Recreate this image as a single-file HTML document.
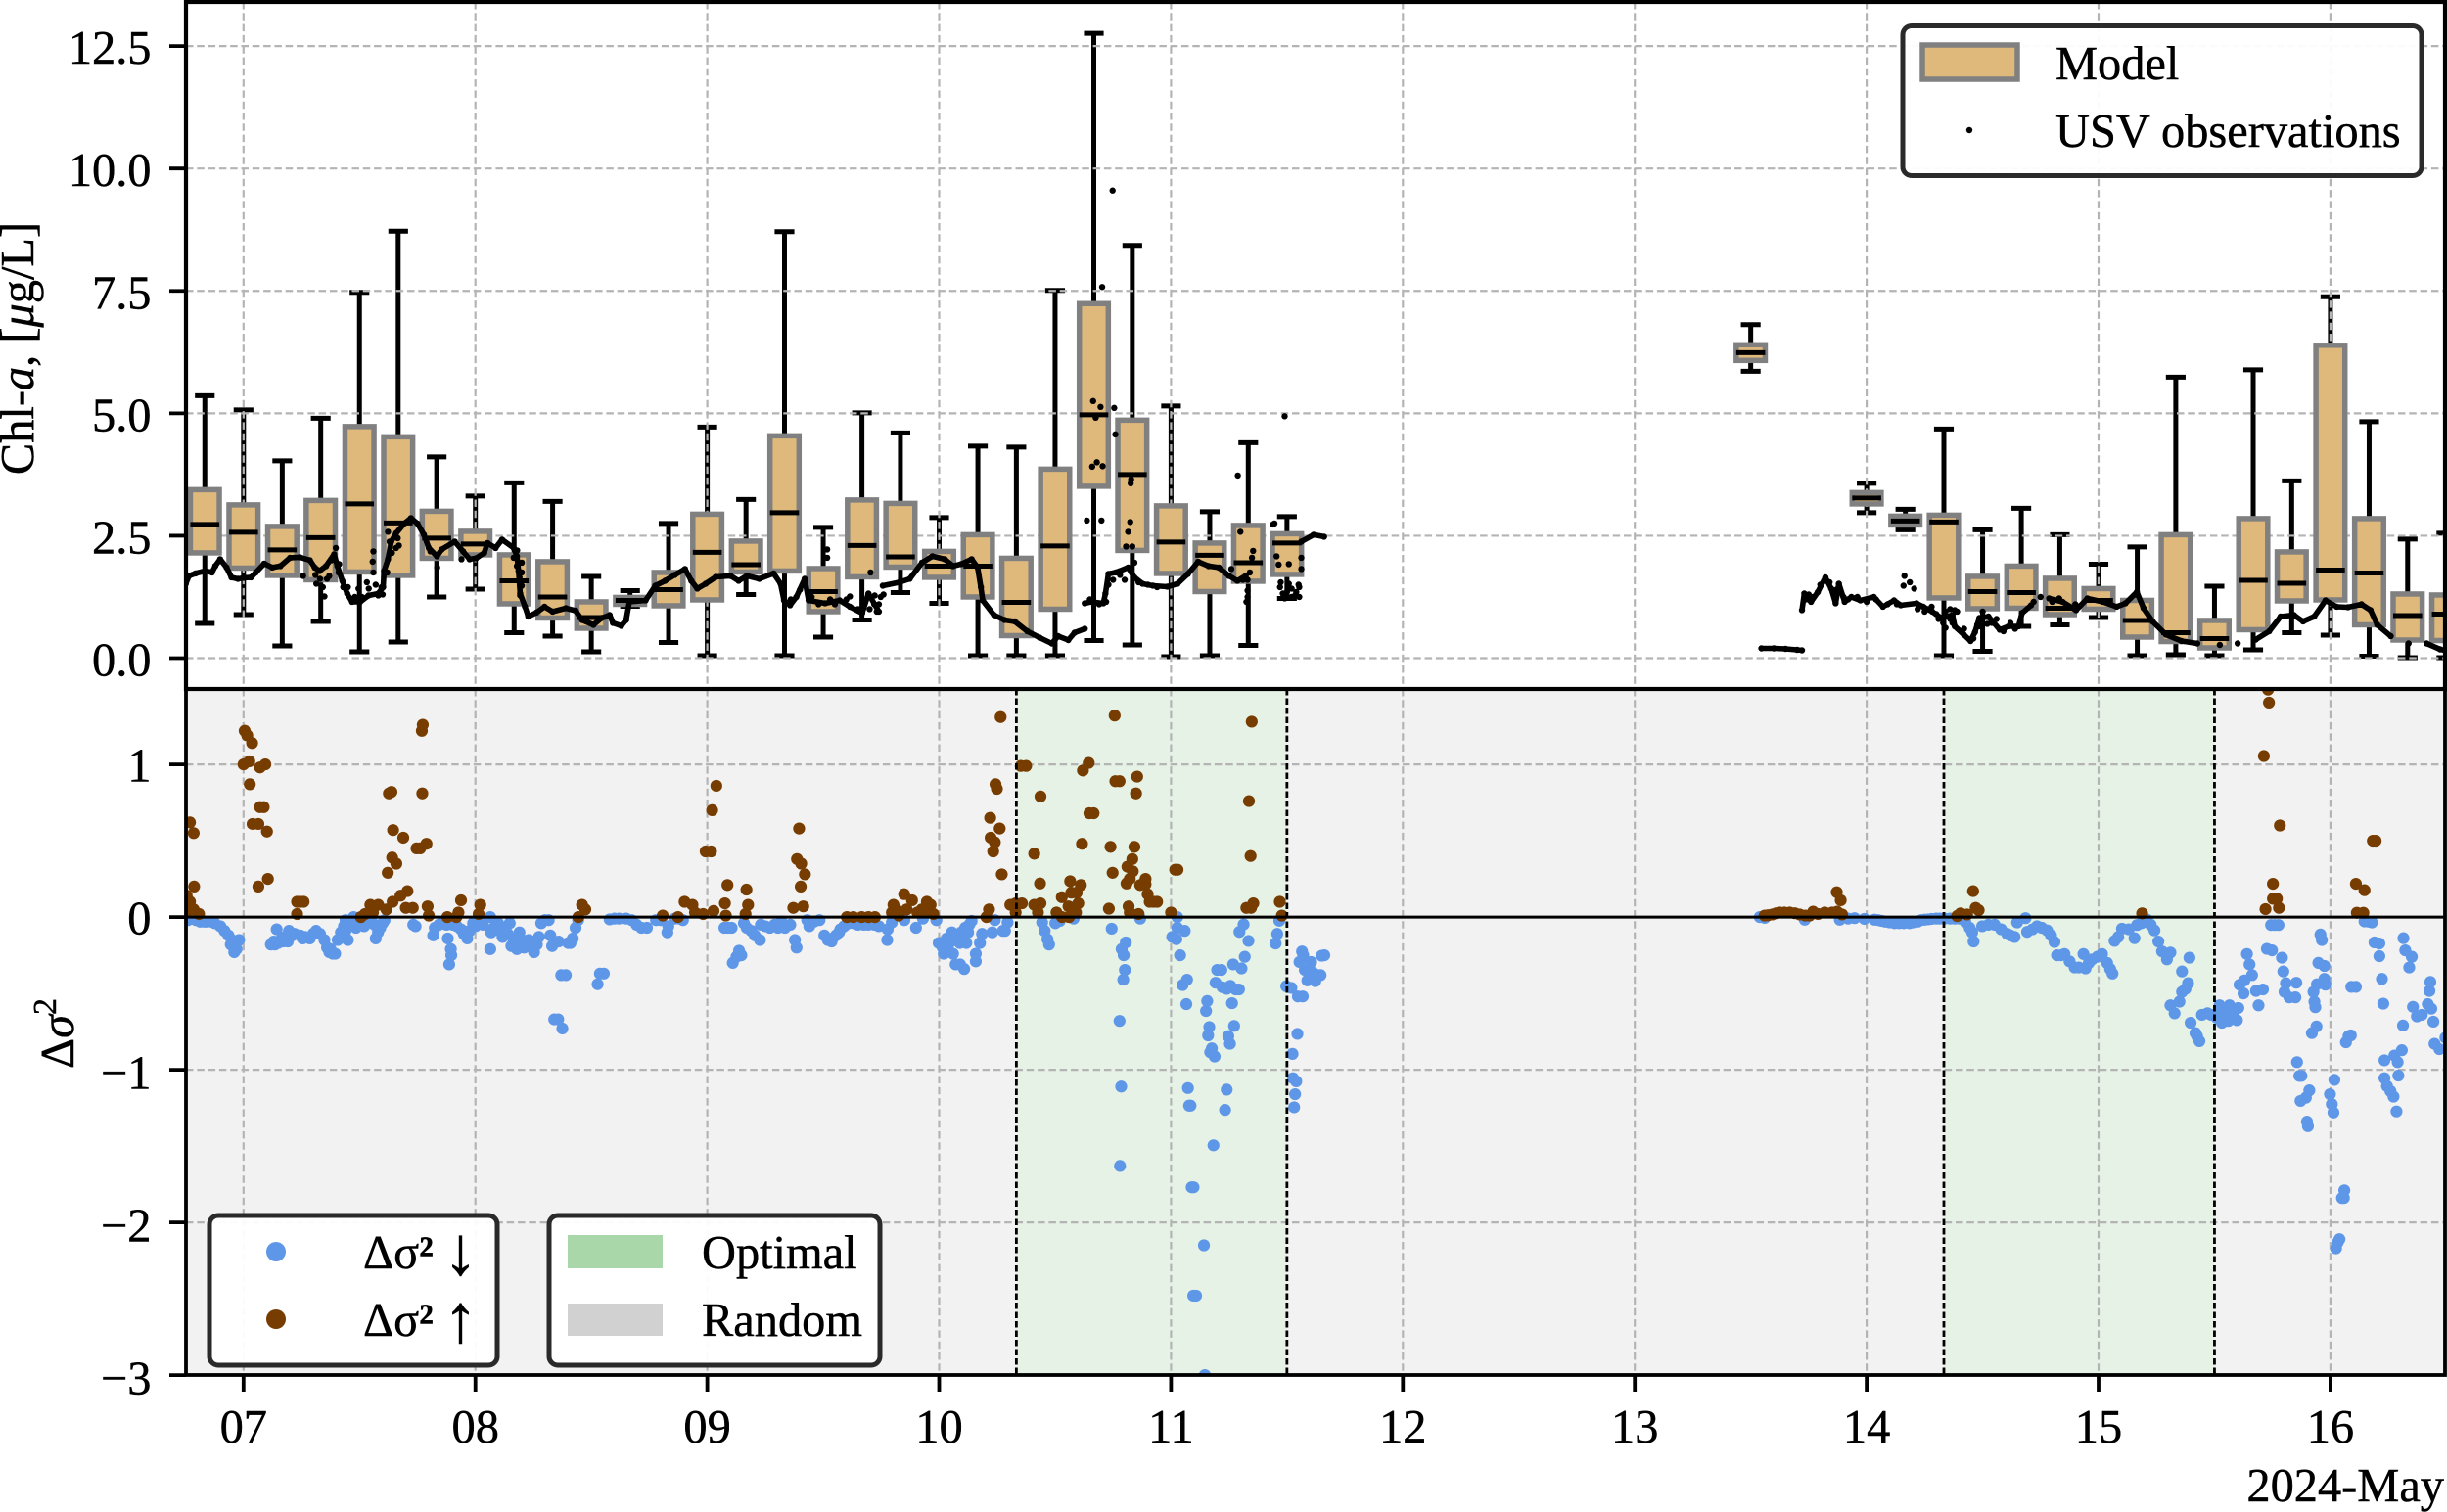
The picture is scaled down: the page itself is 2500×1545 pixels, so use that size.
<!DOCTYPE html>
<html lang="en">
<head>
<meta charset="utf-8">
<title>Chl-a model versus USV observations</title>
<style>
html,body{margin:0;padding:0;background:#fff;}
#chart{display:block;width:2500px;height:1545px;font-family:"Liberation Serif","DejaVu Serif",serif;fill:#000;}
text{font-size:48.4px;stroke:#000;stroke-width:0.45px;}
</style>
</head>
<body>
<svg id="chart" xmlns="http://www.w3.org/2000/svg" width="2500" height="1545" viewBox="0 0 2500 1545">
  <defs>
    <clipPath id="clip-top"><rect x="190" y="2" width="2308" height="702"/></clipPath>
    <clipPath id="clip-bottom"><rect x="190" y="704" width="2308" height="701"/></clipPath>
  </defs>
  <rect x="0" y="0" width="2500" height="1545" fill="#fff"/>

  <g id="top-panel" clip-path="url(#clip-top)">
    <g id="top-whiskers"></g>
    <g id="top-grid"></g>
    <g id="top-boxes"></g>
    <g id="top-obs"></g>
  </g>

  <rect x="190" y="704" width="2308" height="701" fill="#f2f2f2"/>
  <g id="bottom-panel" clip-path="url(#clip-bottom)">
    <g id="bottom-spans"></g>
    <g id="bottom-grid"></g>
    <g id="delta-down"></g>
    <g id="delta-up"></g>
    <g id="bottom-lines"></g>
  </g>

  <g id="axes-ticks"></g>

  <rect x="190" y="2" width="2308" height="702" fill="none" stroke="#000" stroke-width="4.2"/>
  <rect x="190" y="704" width="2308" height="701" fill="none" stroke="#000" stroke-width="3.8"/>

  <text transform="translate(34,356) rotate(-90)" text-anchor="middle">Chl-<tspan font-style="italic">a</tspan>, [<tspan font-style="italic">μ</tspan>g/L]</text>
  <text transform="translate(75,1056) rotate(-90)" text-anchor="middle">Δ<tspan font-style="italic">σ</tspan><tspan font-size="34" dy="-18">2</tspan></text>
  <text x="2497" y="1534" text-anchor="end">2024-May</text>

  <g>
    <rect x="1944" y="26.5" width="530" height="153" rx="9" ry="9" fill="#fff" fill-opacity="0.94" stroke="#2a2a2a" stroke-width="5"/>
    <rect x="1964" y="46" width="97" height="35" fill="#dfb97c" stroke="#808080" stroke-width="5.5"/>
    <text x="2100" y="81">Model</text>
    <circle cx="2012" cy="133" r="3.2" fill="#000"/>
    <text x="2100" y="150">USV observations</text>
  </g>

  <g>
    <rect x="214" y="1242" width="294" height="153" rx="9" ry="9" fill="#fff" fill-opacity="0.94" stroke="#2a2a2a" stroke-width="5"/>
    <circle cx="282" cy="1279" r="10" fill="#5e97e8"/>
    <text x="371" y="1296">Δσ<tspan font-weight="bold">²</tspan><tspan x="453" dy="6" font-size="70">↓</tspan></text>
    <circle cx="282" cy="1348" r="10" fill="#773c00"/>
    <text x="371" y="1365">Δσ<tspan font-weight="bold">²</tspan><tspan x="453" dy="6" font-size="70">↑</tspan></text>
  </g>

  <g>
    <rect x="561" y="1242" width="338" height="153" rx="9" ry="9" fill="#fff" fill-opacity="0.94" stroke="#2a2a2a" stroke-width="5"/>
    <rect x="580" y="1262" width="97" height="34" fill="#a9d7a9"/>
    <text x="717" y="1296">Optimal</text>
    <rect x="580" y="1332" width="97" height="33" fill="#d1d1d1"/>
    <text x="717" y="1365">Random</text>
  </g>
</svg>

<script>
// ---- axis tick data ----
const dayTicks = [7, 8, 9, 10, 11, 12, 13, 14, 15, 16];
const dayTickLabels = ["07", "08", "09", "10", "11", "12", "13", "14", "15", "16"];
const chlTicks = [0, 2.5, 5, 7.5, 10, 12.5];
const chlTickLabels = ["0.0", "2.5", "5.0", "7.5", "10.0", "12.5"];
const deltaTicks = [1, 0, -1, -2, -3];
const deltaTickLabels = ["1", "0", "−1", "−2", "−3"];

// ---- model box statistics ----
const boxDays = [6.833,7,7.167,7.333,7.5,7.667,7.833,8,8.167,8.333,8.5,8.667,8.833,9,9.167,9.333,9.5,9.667,9.833,10,10.167,10.333,10.5,10.667,10.833,11,11.167,11.333,11.5,13.5,14,14.167,14.333,14.5,14.667,14.833,15,15.167,15.333,15.5,15.667,15.833,16,16.167,16.333,16.5];
const whiskerHigh = [5.36,5.07,4.03,4.90,7.47,8.72,4.11,3.31,3.58,3.20,1.67,1.38,2.75,4.72,3.24,8.71,2.67,5.01,4.60,2.87,4.33,4.31,7.51,12.76,8.43,5.15,2.99,4.40,2.89,6.81,3.57,3.04,4.68,2.62,3.06,2.52,1.92,2.27,5.74,1.47,5.89,3.62,7.38,4.83,2.43,2.55];
const boxQ3 = [3.44,3.13,2.69,3.22,4.73,4.52,3.0,2.59,2.11,1.97,1.15,1.24,1.75,2.94,2.39,4.54,1.83,3.23,3.16,2.18,2.52,2.04,3.86,7.24,4.86,3.11,2.35,2.71,2.54,6.40,3.38,2.90,2.92,1.67,1.88,1.63,1.42,1.18,2.52,0.77,2.85,2.17,6.39,2.85,1.31,1.29];
const boxMedian = [2.73,2.57,2.21,2.46,3.15,2.76,2.45,2.33,1.58,1.25,0.83,1.18,1.40,2.16,1.91,2.97,1.36,2.30,2.07,1.88,1.88,1.14,2.29,4.97,3.75,2.37,2.10,1.95,2.35,6.24,3.27,2.80,2.78,1.36,1.34,1.02,1.18,0.77,0.52,0.40,1.59,1.53,1.80,1.74,0.87,0.90];
const boxQ1 = [2.15,1.84,1.69,1.60,1.76,1.69,2.04,2.11,1.11,0.82,0.61,1.10,1.07,1.19,1.76,1.78,0.95,1.66,1.86,1.65,1.25,0.46,1.0,3.51,2.20,1.73,1.36,1.57,1.71,6.08,3.15,2.72,1.23,1.01,1.02,0.89,1.0,0.43,0.34,0.21,0.58,1.17,1.19,0.68,0.37,0.36];
const whiskerLow = [0.71,0.89,0.25,0.75,0.13,0.33,1.25,1.41,0.52,0.45,0.13,1.06,0.32,0.05,1.30,0.05,0.43,0.78,1.34,1.12,0.05,0.05,0.05,0.36,0.27,0.03,0.05,0.26,1.22,5.86,2.97,2.62,0.05,0.14,0.65,0.68,0.83,0.05,0.07,0.05,0.17,0.52,0.47,0.04,0.01,0.01];

// ---- USV observations: the near-continuous track [day, chl-a] ----
const obsTrack = [
[6.751,1.52],[6.765,1.68],[6.793,1.73],[6.835,1.78],[6.864,1.75],[6.878,1.88],[6.899,2.02],[6.927,1.85],[6.948,1.65],[6.976,1.62],[7.0,1.64],[7.032,1.65],[7.053,1.75],[7.089,1.93],[7.124,1.85],[7.159,1.88],[7.201,2.05],[7.243,2.06],[7.286,2.0],[7.307,1.85],[7.328,1.78],[7.356,1.88],[7.391,2.12],[7.405,1.88],[7.426,1.58],[7.447,1.32],[7.468,1.15],[7.503,1.15],[7.539,1.28],[7.581,1.32],[7.602,1.45],[7.606,1.78],[7.623,2.02],[7.637,2.38],[7.658,2.55],[7.693,2.75],[7.722,2.86],[7.75,2.75],[7.778,2.52],[7.799,2.25],[7.834,2.08],[7.855,2.22],[7.911,2.38],[7.947,2.18],[7.975,2.02],[8.003,2.04],[8.038,2.15],[8.052,2.35],[8.087,2.25],[8.115,2.42],[8.165,2.25],[8.179,2.08],[8.186,1.78],[8.193,1.32],[8.214,1.05],[8.228,0.85],[8.263,0.93],[8.298,1.05],[8.333,0.95],[8.39,1.02],[8.432,0.97],[8.46,0.78],[8.509,0.68],[8.544,0.82],[8.579,0.88],[8.593,0.72],[8.629,0.66],[8.65,0.78],[8.664,1.15],[8.734,1.18],[8.776,1.48],[8.818,1.58],[8.86,1.70],[8.904,1.82],[8.931,1.58],[8.957,1.42],[8.993,1.52],[9.037,1.66],[9.100,1.68],[9.135,1.58],[9.171,1.68],[9.224,1.62],[9.286,1.73],[9.316,1.52],[9.331,1.18],[9.357,1.08],[9.384,1.25],[9.42,1.62],[9.437,1.18],[9.508,1.12],[9.571,1.18],[9.615,1.05],[9.668,0.92],[9.695,1.32],[9.74,0.95],[9.757,1.48],[9.828,1.55],[9.873,1.62],[9.926,1.95],[9.971,2.08],[10.024,2.02],[10.06,1.88],[10.095,1.92],[10.14,2.02],[10.166,1.85],[10.18,1.45],[10.188,1.18],[10.237,0.88],[10.282,0.78],[10.326,0.75],[10.38,0.55],[10.433,0.42],[10.486,0.30],[10.513,0.45],[10.557,0.37],[10.584,0.52],[10.628,0.60],
[10.628,1.12],[10.655,1.15],[10.708,1.12],[10.717,1.32],[10.73,1.72],[10.762,1.75],[10.815,1.85],[10.842,1.65],[10.877,1.52],[10.922,1.48],[10.984,1.46],[11.028,1.52],[11.073,1.72],[11.117,1.97],[11.162,1.88],[11.206,1.85],[11.25,1.68],[11.286,1.58],[11.322,1.68],
[11.562,2.38],[11.615,2.52],[11.66,2.48],
[13.546,0.20],[13.6,0.20],[13.65,0.19],[13.7,0.17],[13.721,0.16],
[13.721,0.98],[13.731,1.32],[13.76,1.15],[13.789,1.35],[13.822,1.65],[13.847,1.42],[13.866,1.12],[13.88,1.52],[13.905,1.15],[13.934,1.25],[13.973,1.18],[14.031,1.25],[14.07,1.05],[14.118,1.18],[14.147,1.08],[14.215,1.12],[14.244,1.05],[14.283,0.95],[14.322,0.82],[14.37,0.88],
[14.38,0.65],[14.419,0.48],[14.448,0.35],[14.467,0.53],[14.486,0.82],[14.525,0.85],[14.574,0.58],[14.612,0.65],[14.655,0.65],[14.67,0.92],[14.709,1.08],[14.787,1.22],[14.845,1.15],[14.903,0.98],[14.952,1.22],[15.019,1.15],[15.078,1.05],[15.116,1.12],[15.165,1.35],[15.194,1.02],[15.233,0.75],[15.291,0.48],[15.358,0.35],[15.426,0.30],[15.523,0.27],[15.6,0.30],[15.678,0.38],[15.736,0.55],[15.785,0.85],[15.843,0.88],[15.882,0.75],[15.93,0.85],[15.979,1.18],[16.027,1.05],[16.076,1.04],[16.134,1.10],[16.173,0.98],[16.202,0.68],[16.26,0.45],[16.337,0.30],[16.415,0.30],[16.473,0.18],[16.5,0.15]
];

// ---- USV observations: isolated points [day, chl-a] ----
const obsScatter = [
[7.257,1.68],[7.314,1.52],[7.342,1.45],[7.349,1.26],[7.37,1.68],[7.412,1.92],[7.398,2.25],[7.56,2.18],[7.557,1.97],[7.56,1.75],[7.532,1.55],[7.496,1.42],[7.595,1.45],[7.581,1.28],[7.658,2.25],[7.63,2.38],[7.623,2.58],[7.665,2.45],[7.835,1.85],[7.806,2.18],[7.94,2.02],[8.179,1.88],[8.2,1.75],[8.165,2.05],[8.193,1.28],[8.2,1.48],
[7.31,1.7],[7.33,1.62],[7.36,1.62],[7.38,2.0],[7.41,1.75],[7.43,1.45],[7.45,1.45],[7.48,1.25],[7.51,1.25],[7.54,1.42],[7.57,1.5],[7.6,1.3],[7.62,1.75],[7.64,2.15],[7.67,2.3],[8.18,2.2],[8.19,1.65],[8.2,1.95],
[9.36,1.2],[9.4,1.4],[9.45,1.25],[9.48,1.1],[9.53,1.2],[9.55,1.1],[9.6,1.2],[9.65,1.0],[9.7,1.0],[9.72,1.1],[9.74,1.1],[9.76,1.3],
[9.517,2.22],[9.517,2.05],[9.704,1.75],[9.722,1.28],[9.748,1.25],[9.731,0.95],[9.615,1.26],
[10.637,2.81],[10.70,2.81],[10.824,2.78],[10.815,2.58],[10.806,2.28],[10.833,2.28],[10.842,1.95],[11.299,2.58],[11.446,2.75],[11.354,2.19],[11.349,2.05],[11.325,1.15],[11.33,1.38],[11.26,1.82],[11.455,2.08],[11.508,1.92],[11.464,1.91],[11.562,2.05],[11.562,1.82],[11.473,1.55],[11.508,1.52],[11.553,1.45],[11.482,1.32],[11.535,1.28],[11.49,1.22],[11.553,1.25],
[10.65,1.2],[10.69,1.1],[10.72,1.15],[10.73,1.5],[10.75,1.6],[10.78,1.7],[10.8,1.6],[10.83,1.75],[10.86,1.55],[10.9,1.5],[10.94,1.45],[11.33,1.6],[11.34,1.75],[11.31,1.6],[11.33,1.25],
[11.47,1.45],[11.5,1.35],[11.52,1.42],[11.54,1.35],[11.55,1.5],[11.5,1.25],[11.52,1.25],
[10.748,9.55],[10.703,7.58],[10.664,5.25],[10.696,5.13],[10.755,5.11],[10.76,4.57],[10.675,4.91],[10.66,3.91],[10.68,4.0],[10.705,3.92],[11.288,3.73],[11.49,4.94],[11.44,2.73],[10.826,3.57],[10.828,3.65],
[14.159,1.48],[14.163,1.68],[14.186,1.55],[14.205,1.42],[14.477,0.68],[14.34,0.62],[14.36,1.0],[14.39,0.95],
[13.74,1.2],[13.75,1.3],[13.77,1.25],[13.8,1.5],[13.84,1.55],[13.86,1.3],[13.87,1.4],[13.9,1.25],[13.92,1.2],[13.96,1.25],[14.0,1.15],[14.04,1.2],[14.09,1.1],[14.13,1.1],
[14.22,1.0],[14.25,0.95],[14.28,1.05],[14.3,0.9],[14.31,0.8],[14.33,0.72],[14.34,0.95],[14.36,0.8],[14.37,0.72],[14.38,0.98],
[14.42,0.6],[14.46,0.4],[14.49,0.65],[14.5,0.95],[14.52,0.7],[14.54,0.72],[14.56,0.8],[14.59,0.55],[14.62,0.72],[14.64,0.6],
[14.72,1.15],[14.75,1.25],[14.8,1.15],[14.83,1.22],[14.87,1.05],[14.9,1.1]
];

// ---- change in variance: points above zero [day, delta] ----
const deltaUpPoints = [
[6.769,0.62],[6.785,0.55],[6.787,0.20],[6.755,0.14],[6.769,0.10],[6.785,0.05],[6.808,0.02],[6.755,0.08],[6.76,0.03],
[7.005,1.22],[7.016,1.19],[7.037,1.14],[7.0,1.0],[7.025,1.02],[7.071,0.98],[7.094,1.0],[7.027,0.87],[7.071,0.72],[7.087,0.72],[7.039,0.61],[7.064,0.61],[7.101,0.56],[7.105,0.25],[7.064,0.20],
[7.231,0.10],[7.259,0.10],[7.231,0.02],[7.245,0.10],
[7.506,0.0],[7.524,0.02],[7.547,0.08],[7.581,0.08],[7.558,0.03],[7.616,0.05],[7.643,0.10],[7.677,0.14],[7.707,0.17],[7.7,0.06],[7.73,0.06],[7.622,0.29],[7.641,0.39],[7.659,0.35],[7.645,0.57],[7.689,0.52],[7.627,0.81],[7.638,0.82],
[7.773,1.26],[7.769,1.22],[7.771,0.81],[7.746,0.45],[7.762,0.45],[7.789,0.48],[7.794,0.07],[7.799,0.01],[7.879,0],[7.938,0.11],[7.927,0.03],[7.918,0],[8.021,0.08],[8.014,0.02],
[8.444,0],[8.46,0.08],[8.474,0.05],[8.808,0.01],[8.874,0.0],[8.902,0.10],[8.936,0.08],[8.947,0.03],[8.982,0.02],[8.993,0.43],[9.016,0.43],[9.021,0.70],[9.039,0.86],[9.027,0.04],[9.087,0.21],[9.076,0.09],[9.08,0.01],[9.169,0.18],[9.176,0.08],[9.165,0.02],
[9.396,0.58],[9.387,0.38],[9.405,0.35],[9.421,0.28],[9.403,0.20],[9.371,0.06],[9.414,0.07],
[9.602,0],[9.666,0],[9.723,0],[9.803,0.08],[9.796,0.03],[9.849,0.15],[9.883,0.11],[9.826,0.01],[9.906,0.03],[9.947,0.10],[9.963,0.08],[9.952,0.03],[9.975,0.02],[9.63,0.0],[9.695,0.0],[9.815,0.05],[9.86,0.05],[9.925,0.05],
[10.204,0],[10.215,0.05],[10.27,0.28],[10.233,0.43],[10.222,0.52],[10.24,0.49],[10.261,0.58],[10.22,0.65],[10.243,0.87],[10.249,0.84],[10.265,1.31],
[10.307,0.08],[10.33,0.09],[10.357,0.09],[10.33,0.03],[10.352,0.99],[10.375,0.99],[10.41,0.415],[10.437,0.79],[10.435,0.22],[10.41,0.08],[10.437,0.09],[10.426,0.03],
[10.506,0.03],[10.529,0.13],[10.558,0.07],[10.565,0.235],[10.57,0.16],[10.593,0.16],[10.611,0.21],[10.6,0.09],[10.616,0.48],[10.62,0.96],[10.645,1.01],[10.53,0.0],[10.56,0.0],[10.59,0.03],
[10.648,0.68],[10.666,0.68],[10.732,0.055],[10.739,0.46],[10.748,0.29],[10.757,1.32],[10.76,0.89],[10.778,0.89],[10.854,0.92],[10.849,0.81],[10.842,0.46],[10.833,0.38],[10.812,0.33],[10.835,0.30],[10.822,0.25],[10.808,0.22],[10.817,0.07],[10.822,0.03],[10.86,0.02],[10.867,0.21],[10.89,0.215],[10.89,0.25],[10.899,0.15],[10.908,0.10],[10.94,0.10],[10.925,0.10],
[11.0,0.03],[11.018,0.31],[11.028,0.31],[11.336,0.76],[11.348,1.28],[11.343,0.40],[11.325,0.06],[11.355,0.09],[11.345,0.06],[11.469,0.10],[11.478,0.01],
[13.56,0.01],[13.593,0.017],[13.625,0.03],[13.668,0.03],[13.711,0.017],[13.754,0.01],[13.769,0.035],[13.819,0.03],[13.851,0.03],[13.873,0.035],[13.894,0.017],[13.871,0.163],[13.888,0.11],[13.575,0.012],[13.61,0.025],[13.645,0.03],[13.69,0.025],[13.735,0.01],[13.79,0.02],
[14.39,0.007],[14.405,0.024],[14.433,0.017],[14.459,0.17],[14.47,0.06],[14.483,0.045],[15.188,0.024],
[15.731,1.49],[15.735,1.405],[15.713,1.055],[15.782,0.60],[15.752,0.218],[15.752,0.12],[15.769,0.12],[15.778,0.06],[15.72,0.052],
[16.11,0.218],[16.147,0.176],[16.183,0.50],[16.195,0.50],[16.114,0.028],[16.142,0.028]
];

// ---- change in variance: points below zero [day, delta] ----
const deltaDownPoints = [
[6.76,-0.02],[6.813,-0.03],[6.84,-0.03],[6.876,-0.04],[6.9,-0.06],[6.918,-0.09],[6.935,-0.12],[6.95,-0.15],[6.96,-0.23],[6.981,-0.15],[6.97,-0.21],[6.78,-0.01],[6.795,-0.02],[6.83,-0.03],[6.86,-0.03],[6.945,-0.18],
[7.118,-0.18],[7.135,-0.18],[7.149,-0.17],[7.143,-0.08],[7.17,-0.16],[7.191,-0.16],[7.196,-0.09],[7.22,-0.11],[7.244,-0.12],[7.265,-0.13],[7.286,-0.14],[7.313,-0.09],[7.33,-0.11],[7.349,-0.15],[7.37,-0.23],[7.385,-0.24],[7.395,-0.24],[7.406,-0.15],[7.42,-0.10],[7.433,-0.06],[7.45,-0.15],[7.44,-0.02],[7.475,0],[7.46,-0.05],[7.496,-0.05],[7.532,-0.04],[7.55,-0.01],[7.57,-0.14],[7.58,-0.10],[7.59,-0.07],[7.608,-0.02],[7.13,-0.16],[7.16,-0.15],[7.18,-0.13],[7.21,-0.12],[7.255,-0.14],[7.3,-0.11],[7.36,-0.2],[7.375,-0.21],[7.425,-0.13],[7.44,-0.09],[7.47,-0.03],[7.485,-0.07],[7.51,-0.02],[7.52,-0.06],[7.545,-0.03],[7.565,-0.05],[7.6,-0.04],
[7.732,-0.05],[7.742,-0.06],[7.818,-0.12],[7.843,-0.05],[7.86,-0.03],[7.881,-0.14],[7.894,-0.21],[7.896,-0.25],[7.887,-0.31],[7.902,-0.05],[7.938,-0.08],[7.965,-0.14],[7.99,-0.04],[7.825,-0.07],[7.875,-0.05],[7.92,-0.06],[7.95,-0.11],[7.975,-0.09],[8.0,-0.06],[8.015,-0.02],
[8.033,-0.05],[8.064,0],[8.068,-0.10],[8.064,-0.21],[8.098,-0.04],[8.117,-0.13],[8.148,-0.04],[8.155,-0.19],[8.179,-0.21],[8.19,-0.10],[8.222,-0.18],[8.24,-0.19],[8.253,-0.23],[8.274,-0.13],[8.284,-0.04],[8.316,-0.02],[8.323,-0.12],[8.331,-0.19],[8.359,-0.16],[8.4,-0.17],[8.42,-0.14],[8.432,-0.07],[8.443,-0.02],[8.08,-0.07],[8.105,-0.09],[8.13,-0.07],[8.14,-0.11],[8.165,-0.15],[8.2,-0.15],[8.21,-0.2],[8.23,-0.15],[8.265,-0.18],[8.3,-0.02],[8.41,-0.17],
[8.39,-0.38],[8.37,-0.38],[8.357,-0.67],[8.375,-0.73],[8.34,-0.67],[8.537,-0.37],[8.554,-0.37],[8.527,-0.44],
[8.579,-0.015],[8.6,-0.01],[8.62,-0.01],[8.65,-0.01],[8.674,-0.02],[8.695,-0.05],[8.716,-0.07],[8.74,-0.07],[8.779,-0.02],[8.8,-0.02],[8.832,-0.06],[8.828,-0.10],[8.86,-0.01],[8.895,-0.02],[8.88,-0.01],
[9.074,-0.07],[9.09,-0.07],[9.105,-0.07],[9.158,-0.04],[9.17,-0.07],[9.19,-0.09],[9.205,-0.12],[9.227,-0.15],[9.231,-0.05],[9.25,-0.06],[9.27,-0.07],[9.29,-0.05],[9.305,-0.07],[9.32,-0.03],[9.335,-0.07],[9.358,-0.05],[9.378,-0.15],[9.385,-0.20],[9.431,-0.02],[9.44,-0.06],[9.46,-0.03],[9.484,-0.02],[9.505,-0.12],[9.52,-0.15],[9.536,-0.16],[9.54,-0.14],[9.555,-0.12],[9.568,-0.10],[9.574,-0.08],[9.59,-0.06],[9.61,-0.04],[9.63,-0.04],[9.65,-0.05],[9.675,-0.05],[9.694,-0.05],[9.72,-0.05],[9.74,-0.06],[9.778,-0.08],[9.776,-0.15],[9.796,-0.035],[9.85,-0.02],[9.9,-0.07],[9.93,-0.01],[9.988,-0.02],[9.11,-0.30],[9.126,-0.26],[9.137,-0.22],[9.147,-0.25],
[9.998,-0.17],[10.005,-0.17],[10.02,-0.24],[10.03,-0.23],[10.032,-0.14],[10.055,-0.10],[10.071,-0.31],[10.108,-0.34],[10.089,-0.17],[10.117,-0.17],[10.112,-0.07],[10.14,-0.025],[10.158,-0.29],[10.158,-0.24],[10.176,-0.17],[10.185,-0.11],[10.229,-0.10],[10.284,-0.09],[10.295,-0.035],[10.24,-0.02],[10.015,-0.2],[10.04,-0.18],[10.06,-0.15],[10.075,-0.13],[10.095,-0.1],[10.1,-0.14],[10.125,-0.1],[10.13,-0.05],[10.06,-0.24],[10.09,-0.31],[10.275,-0.09],
[10.444,-0.035],[10.455,-0.09],[10.467,-0.145],[10.474,-0.18],[10.501,-0.04],[10.52,-0.025],[10.58,-0.01],
[10.744,-0.076],[10.805,-0.166],[10.787,-0.21],[10.796,-0.25],[10.801,-0.346],[10.794,-0.41],[10.778,-0.68],[10.785,-1.11],[10.78,-1.63],[10.867,-0.01],
[11.027,0],[11.027,-0.07],[11.005,-0.13],[11.023,-0.145],[11.059,-0.09],[11.039,-0.25],[11.069,-0.41],[11.05,-0.445],[11.066,-0.57],[11.073,-1.12],[11.078,-1.235],[11.084,-1.235],[11.089,-1.77],[11.097,-1.77],[11.142,-2.15],[11.096,-2.48],[11.108,-2.48],[11.146,-3.0],
[11.151,-0.615],[11.156,-0.55],[11.165,-0.72],[11.16,-0.775],[11.176,-0.86],[11.169,-0.885],[11.188,-0.913],[11.183,-1.495],[11.192,-0.43],[11.199,-0.346],[11.217,-0.346],[11.222,-0.46],[11.256,-0.45],[11.24,-0.47],[11.279,-0.474],[11.293,-0.474],[11.263,-0.564],[11.272,-0.713],[11.247,-0.78],[11.254,-0.83],[11.24,-1.13],[11.233,-1.263],
[11.268,-0.31],[11.304,-0.336],[11.318,-0.26],[11.334,-0.156],[11.295,-0.097],[11.313,-0.048],[11.451,-0.173],[11.458,-0.11],[11.467,-0.024],
[11.497,-0.453],[11.519,-0.464],[11.547,-0.52],[11.568,-0.52],[11.545,-0.765],[11.524,-0.896],[11.526,-1.055],[11.54,-1.076],[11.535,-1.16],[11.531,-1.246],
[11.554,-0.294],[11.565,-0.225],[11.57,-0.25],[11.577,-0.346],[11.588,-0.415],[11.604,-0.294],[11.611,-0.363],[11.622,-0.42],[11.634,-0.38],[11.645,-0.38],[11.65,-0.253],[11.661,-0.25],
[13.539,0],[13.56,-0.005],[13.733,-0.017],[13.884,-0.017],[13.92,-0.01],[13.948,-0.007],[13.99,-0.012],[14.034,-0.017],[14.05,-0.02],[14.065,-0.025],[14.08,-0.03],[14.099,-0.035],[14.12,-0.04],[14.14,-0.04],[14.16,-0.04],[14.185,-0.04],[14.2,-0.035],[14.22,-0.03],[14.235,-0.02],[14.25,-0.017],[14.265,-0.015],[14.28,-0.012],[14.3,-0.01],[14.315,-0.01],[14.335,-0.01],[14.36,-0.01],[14.38,-0.01],[14.4,-0.01],[14.425,-0.03],[14.444,-0.07],[14.461,-0.16],[14.455,-0.10],[14.498,-0.06],[14.525,-0.05],[14.552,-0.05],[14.58,-0.08],[14.606,-0.11],[14.62,-0.12],[14.638,-0.13],[14.649,-0.035],[14.685,-0.007],[14.692,-0.097],[14.715,-0.08],[14.735,-0.06],[14.755,-0.07],[14.778,-0.087],[14.795,-0.12],[14.81,-0.163],[14.821,-0.25],[14.838,-0.25],[14.853,-0.242],[14.875,-0.29],[14.897,-0.33],[14.915,-0.33],[14.935,-0.242],[14.944,-0.336],[14.958,-0.3],[14.972,-0.277],[14.995,-0.26],[15.015,-0.242],[15.037,-0.30],[15.05,-0.34],[15.06,-0.37],[15.069,-0.156],[15.085,-0.13],[15.101,-0.076],[15.13,-0.08],[15.155,-0.138],[15.166,-0.052],[15.185,-0.04],[15.209,-0.017],[15.225,-0.05],[15.241,-0.087],[15.258,-0.16],[15.274,-0.225],[15.295,-0.277],[15.31,-0.232],
[15.392,-0.266],[15.36,-0.356],[15.386,-0.433],[15.375,-0.47],[15.36,-0.49],[15.349,-0.554],[15.31,-0.578],[15.328,-0.63],[15.397,-0.692],[15.418,-0.76],[15.435,-0.813],[15.425,-0.78],[15.446,-0.64],[15.47,-0.63],[15.5,-0.64],[15.522,-0.578],[15.532,-0.692],[15.51,-0.66],[15.55,-0.65],[15.565,-0.578],[15.56,-0.68],[15.58,-0.64],[15.597,-0.675],[15.603,-0.595],[15.485,-0.64],[15.54,-0.6],[15.575,-0.6],
[15.625,-0.50],[15.608,-0.443],[15.629,-0.415],[15.64,-0.242],[15.651,-0.31],[15.662,-0.38],[15.679,-0.484],[15.709,-0.474],[15.69,-0.578],[15.726,-0.208],[15.748,-0.218],[15.744,-0.052],[15.76,-0.052],[15.776,-0.052],[15.791,-0.266],[15.797,-0.356],[15.808,-0.433],[15.802,-0.49],[15.823,-0.526],[15.849,-0.526],[15.853,-0.43],
[15.856,-0.95],[15.866,-1.04],[15.875,-1.04],[15.909,-1.135],[15.894,-1.183],[15.871,-1.204],[15.899,-1.34],[15.903,-1.37],
[15.92,-0.76],[15.94,-0.716],[15.931,-0.554],[15.935,-0.59],[15.927,-0.49],[15.942,-0.44],[15.978,-0.443],[15.974,-0.405],[15.948,-0.30],[15.974,-0.32],[15.957,-0.114],[15.963,-0.15],
[15.998,-1.16],[16.006,-1.225],[16.017,-1.066],[16.013,-1.28],[16.06,-1.79],[16.05,-1.84],[16.058,-1.84],[16.024,-2.17],[16.039,-2.11],[16.032,-2.13],
[16.067,-0.82],[16.088,-0.775],[16.078,-0.78],[16.09,-0.457],[16.11,-0.457],[16.147,-0.028],[16.165,-0.03],[16.179,-0.035],[16.19,-0.166],[16.211,-0.173],[16.211,-0.256],[16.222,-0.405],[16.228,-0.567],[16.233,-0.938],[16.276,-0.907],[16.29,-0.95],[16.308,-0.872],[16.233,-1.055],[16.244,-1.107],[16.259,-1.14],[16.272,-1.176],[16.285,-1.273],[16.293,-1.038],[16.313,-0.71],[16.315,-0.138],[16.323,-0.218],[16.351,-0.26],[16.34,-0.33],[16.356,-0.588],[16.373,-0.65],[16.394,-0.64],[16.42,-0.57],[16.427,-0.484],[16.431,-0.425],[16.435,-0.6],[16.444,-0.685],[16.449,-0.83],[16.47,-0.865],[16.496,-0.79]
];

// ---- shaded sampling windows and reference values ----
const optimalStartDays = [10.333, 14.333];
const optimalEndDays = [11.5, 15.5];
const zeroLevel = [0];

// ---- axis functions ----
function xDay(d) { return 248.8 + 236.9 * (d - 7); }
function yChl(v) { return 672.5 - 50.03 * v; }
function yDelta(v) { return 937.1 - 156 * v; }

const SVG_NS = 'http://www.w3.org/2000/svg';
function make(tag, parent, attrs) {
  const el = document.createElementNS(SVG_NS, tag);
  for (const k in attrs) el.setAttribute(k, attrs[k]);
  parent.appendChild(el);
  return el;
}
const byId = function (id) { return document.getElementById(id); };

// grids
const gridStyle = { stroke: '#b4b4b4', 'stroke-width': 2.2, 'stroke-dasharray': '7.5 3.8', fill: 'none' };
function drawGrid(parent, yTicks, yFn, top, bottom) {
  dayTicks.forEach(function (d) {
    const el = make('line', parent, Object.assign({ x1: xDay(d), x2: xDay(d), y1: top, y2: bottom }, gridStyle));
    
    
  });
  yTicks.forEach(function (v) {
    const el = make('line', parent, Object.assign({ x1: 190, x2: 2498, y1: yFn(v), y2: yFn(v) }, gridStyle));
    
    
  });
}

// optimal spans sit under the bottom grid
optimalStartDays.forEach(function (start, i) {
  const el = make('rect', byId('bottom-spans'), { x: xDay(start), y: 704, width: xDay(optimalEndDays[i]) - xDay(start), height: 701, fill: '#e5f2e5' });
  
  
});

drawGrid(byId('top-grid'), chlTicks, yChl, 2, 704);
drawGrid(byId('bottom-grid'), deltaTicks, yDelta, 704, 1405);

// boxes
const boxWidthDays = 0.125;
const capWidthDays = 0.085;
boxDays.forEach(function (d, i) {
  const cx = xDay(d);
  const capHalf = xDay(d + capWidthDays / 2) - cx;
  const boxHalf = xDay(d + boxWidthDays / 2) - cx;
  const w = byId('top-whiskers');
  const whisker = make('line', w, { x1: cx, x2: cx, y1: yChl(whiskerHigh[i]), y2: yChl(whiskerLow[i]), stroke: '#000', 'stroke-width': 5 });
  
  
  const capHigh = make('line', w, { x1: cx - capHalf, x2: cx + capHalf, y1: yChl(whiskerHigh[i]), y2: yChl(whiskerHigh[i]), stroke: '#000', 'stroke-width': 5 });
  
  
  const capLow = make('line', w, { x1: cx - capHalf, x2: cx + capHalf, y1: yChl(whiskerLow[i]), y2: yChl(whiskerLow[i]), stroke: '#000', 'stroke-width': 5 });
  
  

  const b = byId('top-boxes');
  const box = make('rect', b, { x: cx - boxHalf, y: yChl(boxQ3[i]), width: boxHalf * 2, height: yChl(boxQ1[i]) - yChl(boxQ3[i]), fill: '#dfb97c', stroke: '#808080', 'stroke-width': 5.5 });
  
  
  const med = make('line', b, { x1: cx - boxHalf, x2: cx + boxHalf, y1: yChl(boxMedian[i]), y2: yChl(boxMedian[i]), stroke: '#000', 'stroke-width': 5 });
  
  
});

// observations: a thick connected track plus individual markers
(function () {
  const g = byId('top-obs');
  let path = '';
  let prev = null;
  obsTrack.forEach(function (p) {
    const joined = prev && (p[0] - prev[0]) <= 0.075 && Math.abs(p[1] - prev[1]) <= 0.5;
    path += (joined ? 'L' : 'M') + xDay(p[0]).toFixed(1) + ' ' + yChl(p[1]).toFixed(1);
    prev = p;
  });
  const track = make('path', g, { d: path, fill: 'none', stroke: '#000', 'stroke-width': 5.6, 'stroke-linejoin': 'round', 'stroke-linecap': 'round' });
  
  
  obsTrack.concat(obsScatter).forEach(function (p) {
    const dot = make('circle', g, { cx: xDay(p[0]), cy: yChl(p[1]), r: 3.2, fill: '#000' });
    
    
  });
})();

// delta points
deltaDownPoints.forEach(function (p) {
  const dot = make('circle', byId('delta-down'), { cx: xDay(p[0]), cy: yDelta(p[1]), r: 6.1, fill: '#5e97e8' });
  
  
});
deltaUpPoints.forEach(function (p) {
  const dot = make('circle', byId('delta-up'), { cx: xDay(p[0]), cy: yDelta(p[1]), r: 6.1, fill: '#773c00' });
  
  
});

// dashed window bounds and zero line
optimalStartDays.concat(optimalEndDays).forEach(function (d) {
  const el = make('line', byId('bottom-lines'), { x1: xDay(d), x2: xDay(d), y1: 704, y2: 1405, stroke: '#000', 'stroke-width': 2.8, 'stroke-dasharray': '6.5 3' });
  
  
});
zeroLevel.forEach(function (v) {
  const el = make('line', byId('bottom-lines'), { x1: 190, x2: 2498, y1: yDelta(v), y2: yDelta(v), stroke: '#000', 'stroke-width': 3 });
  
  
});

// ticks and tick labels
const tickGroup = byId('axes-ticks');
chlTicks.forEach(function (v, i) {
  const t = make('line', tickGroup, { x1: 173, x2: 190, y1: yChl(v), y2: yChl(v), stroke: '#000', 'stroke-width': 3.8 });
  
  
  const lab = make('text', tickGroup, { x: 154.5, y: yChl(v) + 18, 'text-anchor': 'end' });
  lab.textContent = chlTickLabels[i];
  
  
});
deltaTicks.forEach(function (v, i) {
  const t = make('line', tickGroup, { x1: 173, x2: 190, y1: yDelta(v), y2: yDelta(v), stroke: '#000', 'stroke-width': 3.8 });
  
  
  const lab = make('text', tickGroup, { x: 154.5, y: yDelta(v) + (v < 0 ? 19.5 : 17.5), 'text-anchor': 'end' });
  lab.textContent = deltaTickLabels[i];
  
  
});
dayTicks.forEach(function (d, i) {
  const t = make('line', tickGroup, { x1: xDay(d), x2: xDay(d), y1: 1405, y2: 1422, stroke: '#000', 'stroke-width': 3.8 });
  
  
  const lab = make('text', tickGroup, { x: xDay(d), y: 1474, 'text-anchor': 'middle' });
  lab.textContent = dayTickLabels[i];
  
  
});
</script>
</body>
</html>
